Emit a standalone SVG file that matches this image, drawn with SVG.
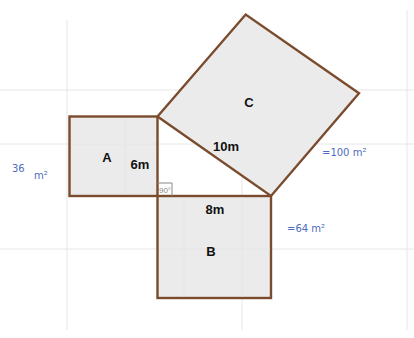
<svg xmlns="http://www.w3.org/2000/svg" width="414" height="338" viewBox="0 0 414 338">
<style>
.sq{fill:#ebebeb;stroke:#7a4b2c;stroke-width:2.4;stroke-linejoin:miter}
.grid{stroke:#e6e6e6;stroke-width:1;fill:none}
.lbl{font-family:"Liberation Sans",Arial,sans-serif;font-weight:bold;font-size:13px;fill:#111}
.hand{font-family:"DejaVu Sans","Liberation Sans",sans-serif;fill:#4d6cc0;font-size:10px}
</style>
<rect width="414" height="338" fill="#fff"/>
<g id="grid">
<path class="grid" d="M67 20V330M242 14V330M407 10V330M0 90H414M0 144H414M0 249H414"/>
</g>
<g id="A">
<rect class="sq" x="69.5" y="116.5" width="88" height="79.5"/>
<path class="grid" d="M125 118V195M71 144H156"/>
<text class="lbl" x="107" y="162" text-anchor="middle">A</text>
<text class="lbl" x="140" y="169" text-anchor="middle">6m</text>
</g>
<g id="B">
<rect class="sq" x="157.5" y="196" width="113.5" height="102"/>
<path class="grid" d="M184 197V297M242 197V297M159 249H270"/>
<text class="lbl" x="215" y="214" text-anchor="middle">8m</text>
<text class="lbl" x="211" y="256" text-anchor="middle">B</text>
</g>
<g id="C">
<polygon class="sq" points="157.5,116.5 245.7,14.5 359,93.3 271,196"/>
<text class="lbl" x="249" y="107" text-anchor="middle">C</text>
<text class="lbl" x="226" y="151" text-anchor="middle">10m</text>
</g>
<g id="angle">
<path d="M157.5 183H172V196" fill="none" stroke="#888" stroke-width="1"/>
<text x="165" y="193" font-family="Liberation Sans,Arial,sans-serif" font-size="8" fill="#888" text-anchor="middle">90°</text>
</g>
<g id="areas">
<text class="hand" x="12" y="172" font-size="13">36</text>
<text class="hand" x="34" y="179" font-size="9">m²</text>
<text class="hand" x="322" y="156">=100  m²</text>
<text class="hand" x="287" y="232">=64  m²</text>
</g>
</svg>
